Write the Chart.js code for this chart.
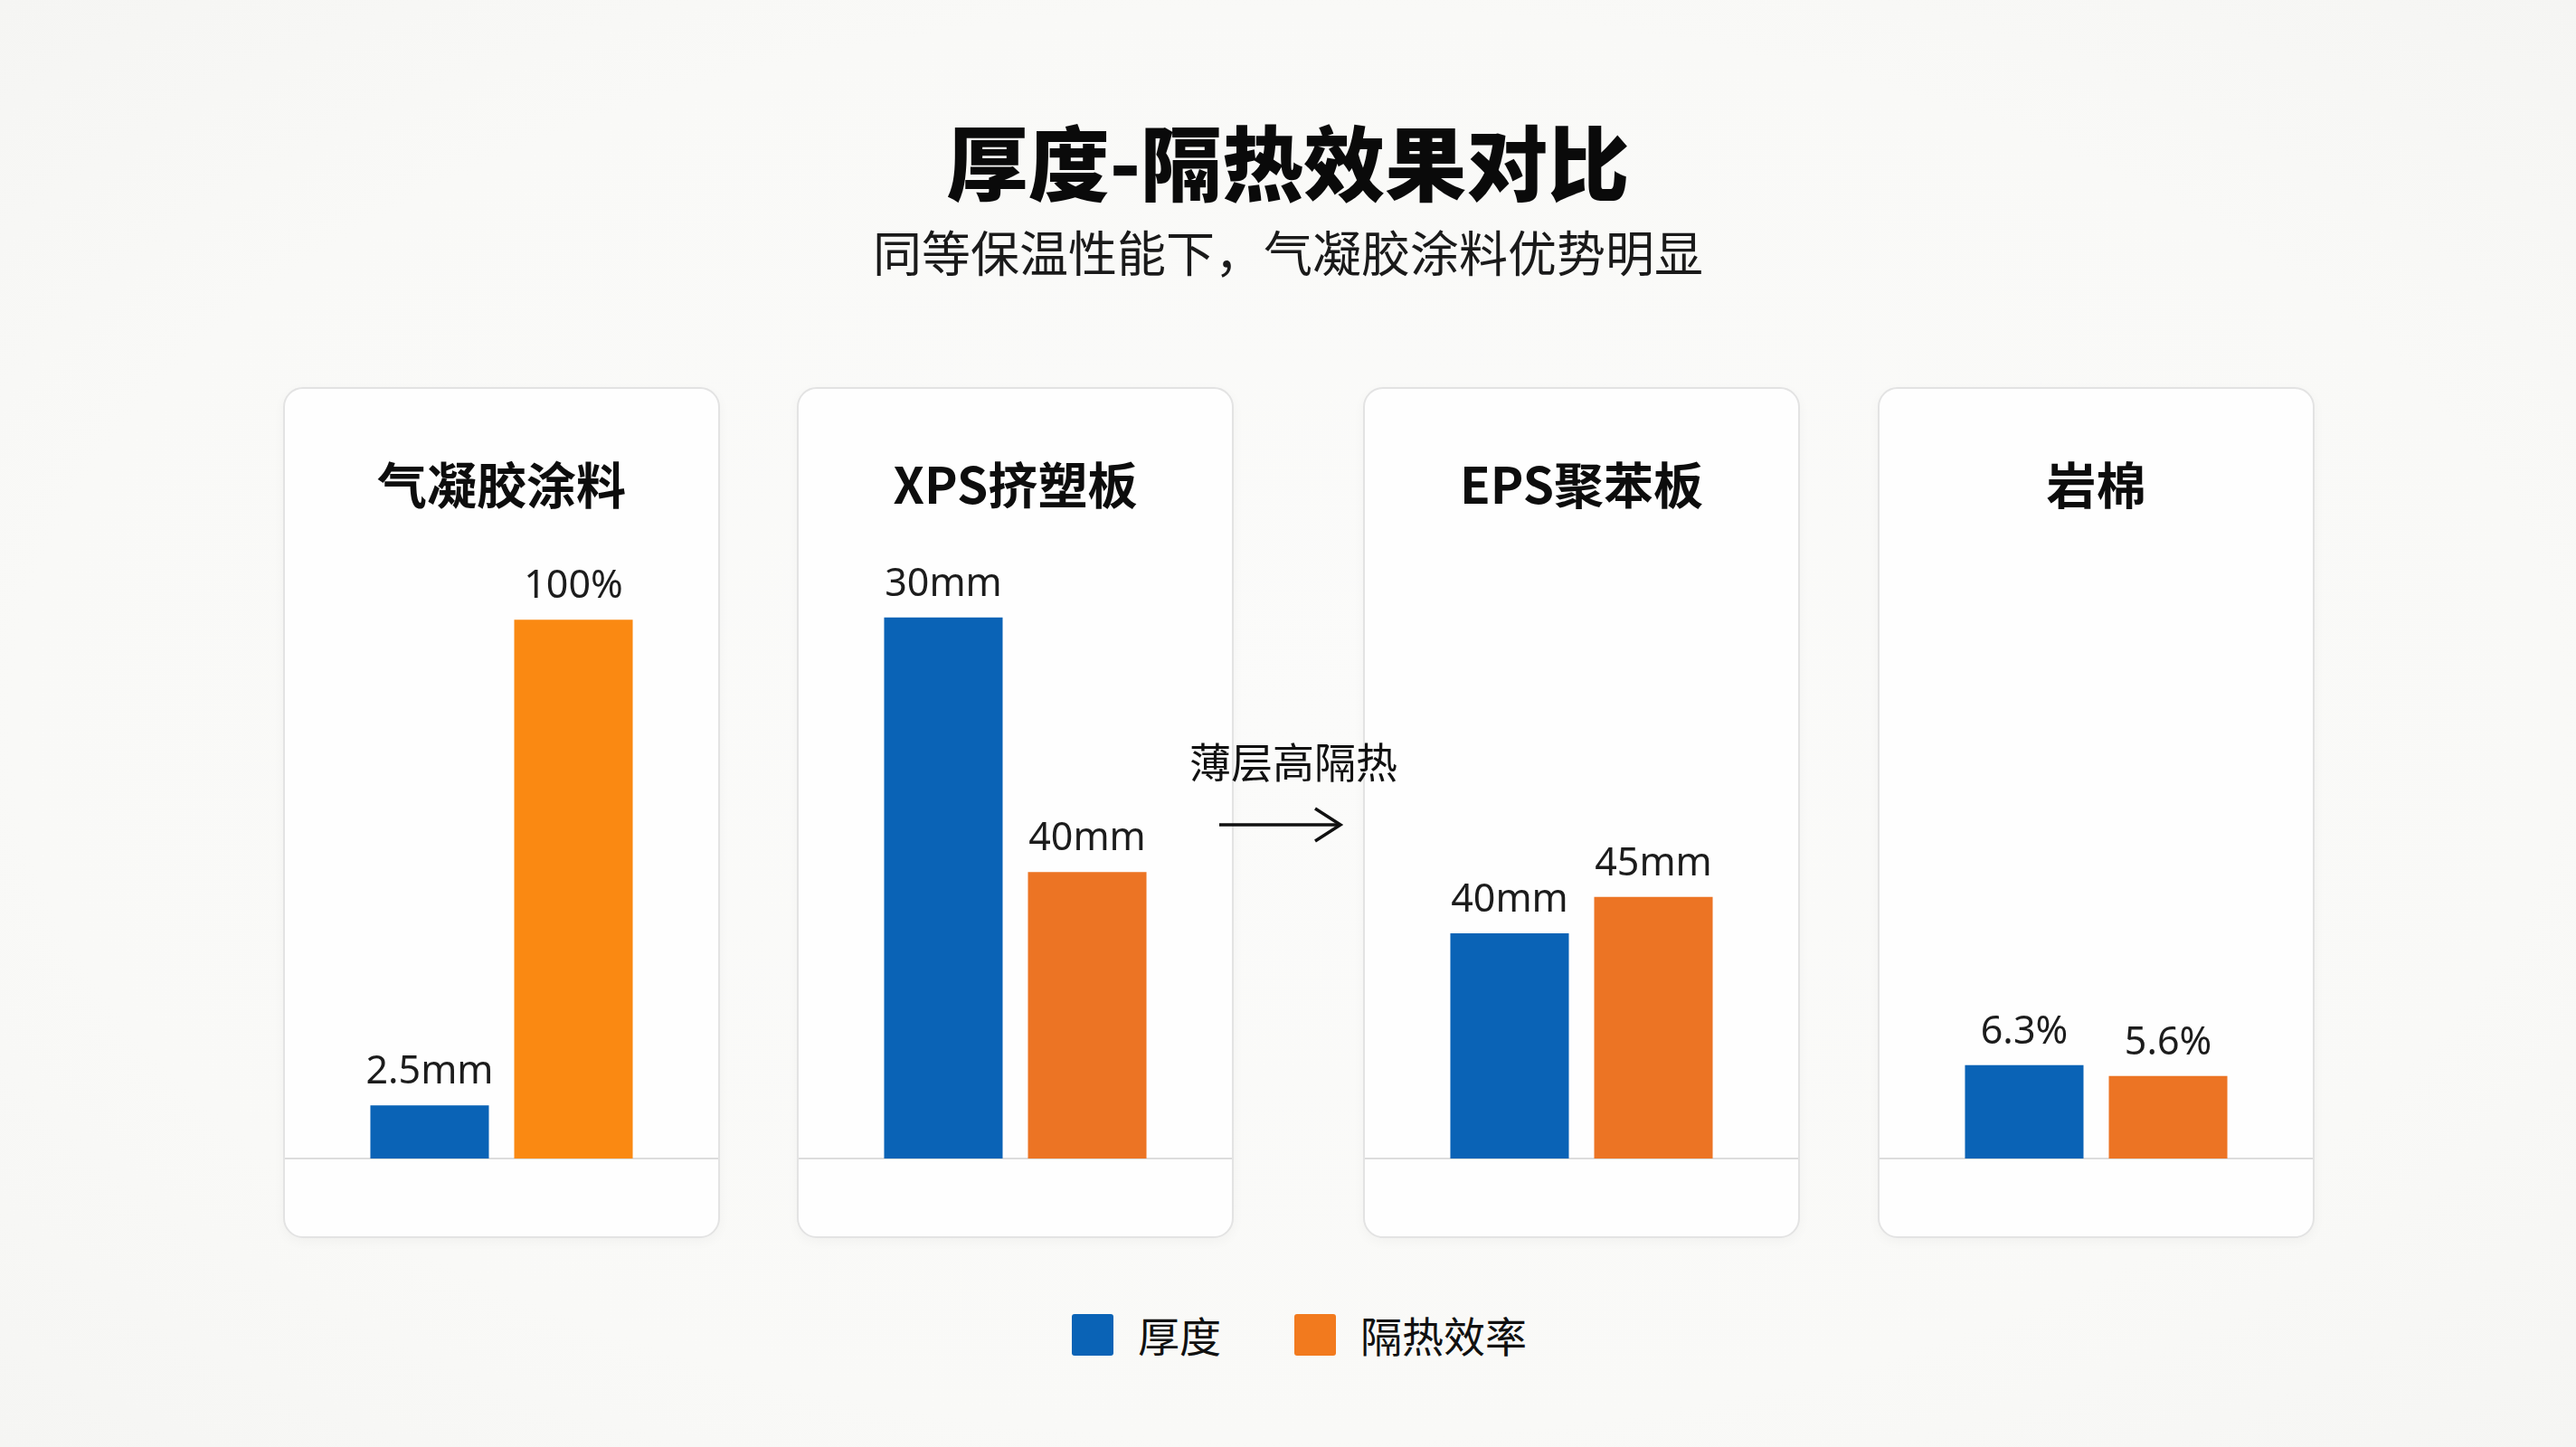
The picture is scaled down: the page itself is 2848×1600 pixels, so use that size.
<!DOCTYPE html>
<html>
<head>
<meta charset="utf-8">
<script src="https://cdn.jsdelivr.net/npm/chart.js@4.4.1/dist/chart.umd.min.js"></script>
<style>
  html, body { margin: 0; padding: 0; }
  body {
    width: 2848px; height: 1600px; position: relative; overflow: hidden;
    background: radial-gradient(ellipse at center, #fbfbfa 0%, #f9f9f7 70%, #f5f5f3 100%);
    font-family: "Noto Sans CJK SC", "Noto Sans", sans-serif;
    color: #111;
  }
  .title {
    position: absolute; left: 0; width: 2848px; top: 130px; height: 92px; line-height: 92px;
    text-align: center; font-size: 90px; font-weight: 900; color: #0a0a0a;
  }
  .subtitle {
    position: absolute; left: 0; width: 2848px; top: 250px; height: 56px; line-height: 56px;
    text-align: center; font-size: 54px; font-weight: 400; color: #1a1a1a;
  }
  .card {
    position: absolute; top: 428px; width: 483px; height: 941px; box-sizing: border-box;
    border: 2px solid #e3e3e3; border-radius: 22px; background: #fefefe;
    box-shadow: 0 4px 14px rgba(0,0,0,0.035);
  }
  .card canvas { position: absolute; left: 0; top: 0; }
  .card-title {
    position: absolute; left: 0; width: 100%; top: 74px; height: 58px; line-height: 58px;
    text-align: center; font-size: 55px; font-weight: 700; color: #0d0d0d; z-index: 2;
  }
  .note {
    position: absolute; left: 1300px; width: 260px; top: 815px; height: 50px; line-height: 50px;
    text-align: center; font-size: 46px; color: #111; z-index: 10;
  }
  .arrow { position: absolute; left: 1340px; top: 888px; z-index: 10; }
  .legend {
    position: absolute; top: 1450px; height: 48px; left: 0; width: 2848px;
  }
  .legend .sw { position: absolute; top: 3px; width: 46px; height: 46px; border-radius: 3px; }
  .legend .lb { position: absolute; top: 0; height: 50px; line-height: 50px; font-size: 46px; color: #111; }
</style>
</head>
<body>
<div class="title">厚度-隔热效果对比</div>
<div class="subtitle">同等保温性能下，气凝胶涂料优势明显</div>

<div class="legend" id="legend"></div>

<script>
// ---- Data ----
const categories = ['气凝胶涂料', 'XPS挤塑板', 'EPS聚苯板', '岩棉'];
const seriesNames = ['厚度', '隔热效率'];
// bar heights, relative (tallest bar ≈ 100)
const thicknessValues = [9.8, 99.7, 41.5, 17.2];
const efficiencyValues = [99.3, 52.8, 48.2, 15.2];
// value labels printed above the bars
const thicknessLabels = ['2.5mm', '30mm', '40mm', '6.3%'];
const efficiencyLabels = ['100%', '40mm', '45mm', '5.6%'];

// ---- Styles ----
const thicknessColor = '#0a63b6';
const efficiencyColors = ['#fa8912', '#ec7424', '#ec7424', '#ec7424'];
const legendOrange = '#f27a1e';
const cardLefts = [313, 881, 1507, 2076];

const valueLabelPlugin = {
  id: 'valueLabels',
  afterDatasetsDraw(chart) {
    const ctx = chart.ctx;
    ctx.save();
    ctx.font = '400 43px "Noto Sans", "Open Sans", sans-serif';
    ctx.fillStyle = '#1c1c1c';
    ctx.textAlign = 'center';
    ctx.textBaseline = 'alphabetic';
    chart.data.datasets.forEach((ds, di) => {
      const meta = chart.getDatasetMeta(di);
      meta.data.forEach((bar, i) => {
        ctx.fillText(ds.valueLabels[i], bar.x, bar.y - 24);
      });
    });
    ctx.restore();
  }
};

categories.forEach((cat, idx) => {
  const card = document.createElement('div');
  card.className = 'card';
  card.style.left = cardLefts[idx] + 'px';
  const t = document.createElement('div');
  t.className = 'card-title';
  t.textContent = cat;
  card.appendChild(t);
  const wrap = document.createElement('div');
  wrap.style.cssText = 'position:absolute;left:0;top:0;width:479px;height:937px;';
  const cv = document.createElement('canvas');
  wrap.appendChild(cv);
  card.appendChild(wrap);
  document.body.appendChild(card);

  new Chart(cv, {
    type: 'bar',
    data: {
      labels: [cat],
      datasets: [
        { label: seriesNames[0], data: [thicknessValues[idx]], backgroundColor: thicknessColor,
          valueLabels: [thicknessLabels[idx]] },
        { label: seriesNames[1], data: [efficiencyValues[idx]], backgroundColor: efficiencyColors[idx],
          valueLabels: [efficiencyLabels[idx]] }
      ]
    },
    options: {
      responsive: true,
      maintainAspectRatio: false,
      animation: false,
      devicePixelRatio: 1,
      layout: { padding: { top: 251, bottom: 86, left: 0, right: 0 } },
      datasets: { bar: { categoryPercentage: 0.664, barPercentage: 0.824, borderWidth: 0 } },
      plugins: { legend: { display: false }, tooltip: { enabled: false }, title: { display: false } },
      scales: {
        x: {
          display: true,
          grid: { display: false, drawTicks: false },
          ticks: { display: false },
          border: { display: true, color: '#dcdcdc', width: 2 }
        },
        y: {
          display: false,
          min: 0, max: 100
        }
      }
    },
    plugins: [valueLabelPlugin]
  });
});

// annotation between panels (on top of cards)
const note = document.createElement('div');
note.className = 'note';
note.textContent = '薄层高隔热';
document.body.appendChild(note);
const svgNS = 'http://www.w3.org/2000/svg';
const arrow = document.createElementNS(svgNS, 'svg');
arrow.setAttribute('class', 'arrow');
arrow.setAttribute('width', '150'); arrow.setAttribute('height', '50');
arrow.innerHTML = '<line x1="8" y1="24" x2="142" y2="24" stroke="#111" stroke-width="3.5"/>' +
  '<polyline points="114,6 142,24 114,42" fill="none" stroke="#111" stroke-width="3.5"/>';
document.body.appendChild(arrow);

// legend
const legend = document.getElementById('legend');
const legendItems = [
  { name: seriesNames[0], color: thicknessColor, sx: 1185, tx: 1258 },
  { name: seriesNames[1], color: legendOrange, sx: 1431, tx: 1504 }
];
legendItems.forEach(it => {
  const sw = document.createElement('div');
  sw.className = 'sw'; sw.style.left = it.sx + 'px'; sw.style.background = it.color;
  const lb = document.createElement('div');
  lb.className = 'lb'; lb.style.left = it.tx + 'px'; lb.textContent = it.name;
  legend.appendChild(sw); legend.appendChild(lb);
});
</script>
</body>
</html>
